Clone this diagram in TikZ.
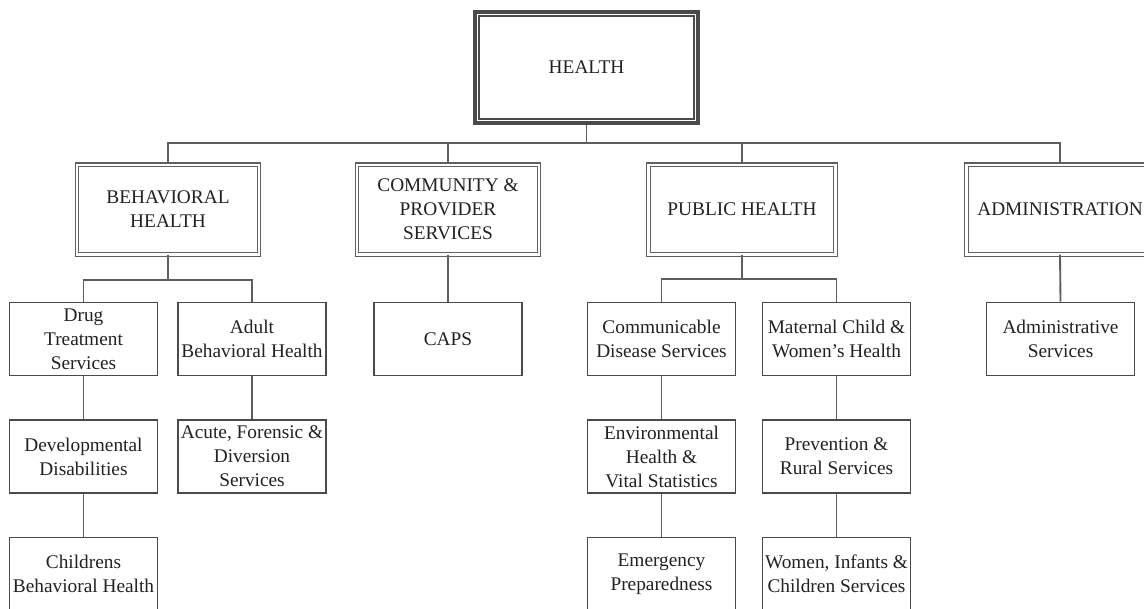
\documentclass[tikz,border=0pt]{standalone}
\usepackage{fontspec}
\setmainfont{Liberation Serif}
\usetikzlibrary{positioning}
\definecolor{ink}{HTML}{222222}
\definecolor{edge}{HTML}{4A4A4A}
\definecolor{wire}{HTML}{5E5E5E}
\definecolor{dbl}{HTML}{606060}
\newcommand{\orgfont}{\fontsize{14.5}{18}\selectfont}
\tikzset{
  topbox/.style={draw=edge,line width=3pt,minimum width=167pt,minimum height=83pt,inner sep=0pt,align=center,font=\orgfont,text=ink},
  divbox/.style={draw=dbl,line width=0.8pt,double=white,double distance=2pt,minimum width=136.5pt,minimum height=67pt,inner sep=0pt,align=center,font=\orgfont,text=ink},
  unitbox/.style={draw=edge,line width=1.1pt,minimum width=111pt,minimum height=55pt,inner sep=0pt,align=center,font=\orgfont,text=ink},
  link/.style={draw=wire,line width=1.4pt},
}

\begin{document}
\begin{tikzpicture}[x=0.75pt,y=-0.75pt]
\clip (0,0) rectangle (1144,608);
\fill[white] (0,0) rectangle (1144,608);
% top
\node[topbox] (hl) at (586.5,67.5) {HEALTH};
\draw[edge,line width=1.2pt] ([shift={(6,6)}]hl.north west) rectangle ([shift={(-6,-6)}]hl.south east);
% divisions
\node[divbox] (bh) at (168,209.5) {BEHAVIORAL\\HEALTH};
\node[divbox] (cps) at (448,209.5) {COMMUNITY \&\\PROVIDER\\SERVICES};
\node[divbox,minimum width=140pt] (ph) at (742,209.5) {PUBLIC HEALTH};
\node[divbox,minimum width=140pt] (adm) at (1060,209.5) {ADMINISTRATION};
% units
\node[unitbox] (drug) at (83.5,339) {Drug\\Treatment\\Services};
\node[unitbox] (adult) at (252,339) {Adult\\Behavioral Health};
\node[unitbox] (dev) at (83.5,456.5) {Developmental\\Disabilities};
\node[unitbox] (acute) at (252,456.5) {Acute, Forensic \&\\Diversion\\Services};
\node[unitbox] (child) at (83.5,574) {Childrens\\Behavioral Health};
\node[unitbox] (caps) at (448,339) {CAPS};
\node[unitbox] (comm) at (661.5,339) {Communicable\\Disease Services};
\node[unitbox] (mat) at (836.5,339) {Maternal Child \&\\Women's Health};
\node[unitbox] (env) at (661.5,456.5) {Environmental\\Health \&\\Vital Statistics};
\node[unitbox] (prev) at (836.5,456.5) {Prevention \&\\Rural Services};
\node[unitbox] (emer) at (661.5,574) {Emergency\\Preparedness};
\node[unitbox] (wic) at (836.5,574) {Women, Infants \&\\Children Services};
\node[unitbox] (admsvc) at (1060.5,339) {Administrative\\Services};
% connectors
\coordinate (hlbus) at (586.5,143);
\coordinate (bhbus) at (168,280);
\coordinate (phbus) at (742,279);
\draw[link] (hl.south) -- (hlbus);
\foreach \d in {bh,cps,ph,adm}
  \draw[link] (hlbus) -| (\d.north);
\draw[link] (bh.south) -- (bhbus);
\draw[link] (bhbus) -| (drug.north);
\draw[link] (bhbus) -| (adult.north);
\draw[link] (ph.south) -- (phbus);
\draw[link] (phbus) -| (comm.north);
\draw[link] (phbus) -| (mat.north);
\draw[link] (cps.south) -- (caps.north);
\draw[link] (adm.south) -- (admsvc.north);
\draw[link] (drug.south) -- (dev.north);
\draw[link] (dev.south) -- (child.north);
\draw[link] (adult.south) -- (acute.north);
\draw[link] (comm.south) -- (env.north);
\draw[link] (env.south) -- (emer.north);
\draw[link] (mat.south) -- (prev.north);
\draw[link] (prev.south) -- (wic.north);
\end{tikzpicture}
\end{document}
